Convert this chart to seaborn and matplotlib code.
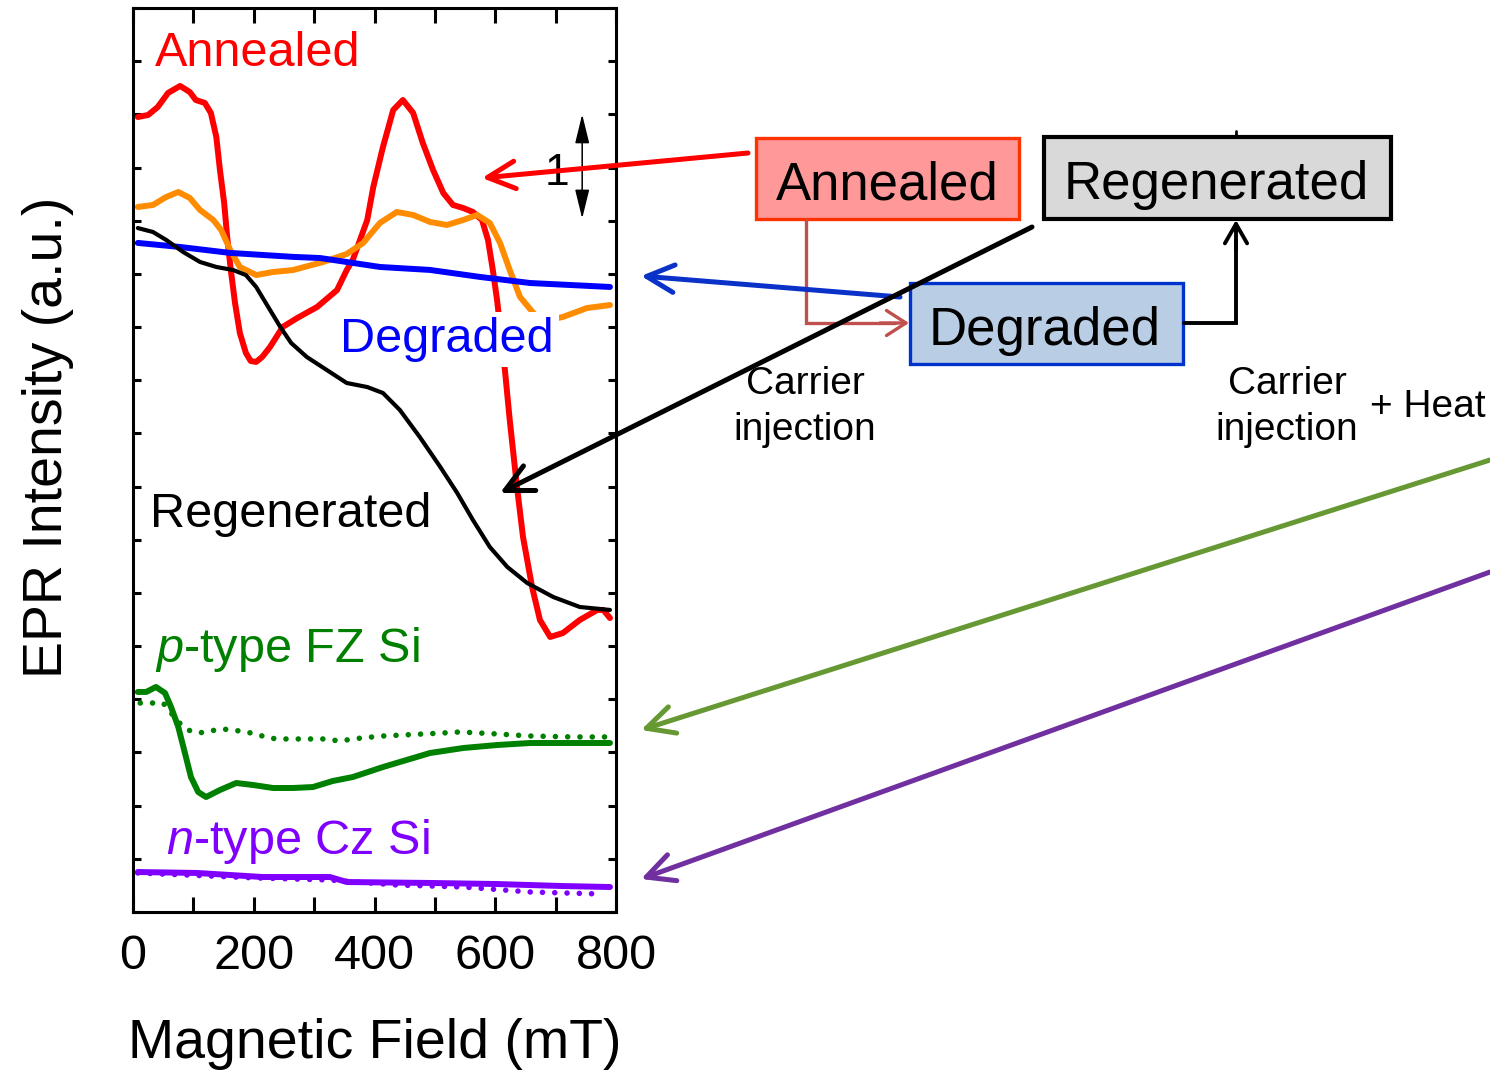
import numpy as np
import matplotlib
matplotlib.use("Agg")
import matplotlib.pyplot as plt
import seaborn as sns
from matplotlib.patches import Rectangle

# ---- EPR spectra (field in mT, intensity in a.u., offset vertically) ----
field_annealed = [8, 25, 41, 58, 78, 94, 104, 119, 129, 138, 144, 151, 156, 162, 169, 177,
                  187, 195, 204, 214, 227, 248, 272, 305, 338, 354, 364, 376, 388, 398, 414,
                  431, 447, 464, 480, 497, 514, 530, 547, 563, 578, 588, 596, 603, 616, 624,
                  636, 646, 661, 674, 691, 712, 740, 769, 779, 790]
epr_annealed = [7.475, 7.494, 7.569, 7.701, 7.767, 7.710, 7.635, 7.607, 7.513, 7.287, 6.977,
                6.666, 6.347, 6.036, 5.726, 5.444, 5.256, 5.181, 5.172, 5.219, 5.313, 5.501,
                5.585, 5.689, 5.848, 6.036, 6.131, 6.319, 6.507, 6.817, 7.193, 7.541, 7.635,
                7.513, 7.231, 6.977, 6.760, 6.648, 6.619, 6.582, 6.507, 6.319, 6.036, 5.755,
                5.096, 4.626, 3.996, 3.526, 3.056, 2.746, 2.586, 2.623, 2.746, 2.840, 2.840,
                2.764]

field_annealed_b = [8, 33, 55, 75, 94, 111, 133, 146, 161, 177, 204, 232, 265, 315, 354, 381,
                    409, 437, 464, 492, 520, 547, 570, 591, 608, 624, 641, 666, 687, 712, 752,
                    790]
epr_annealed_b = [6.629, 6.648, 6.723, 6.770, 6.714, 6.601, 6.507, 6.413, 6.225, 6.065, 5.989,
                  6.018, 6.036, 6.112, 6.187, 6.290, 6.479, 6.582, 6.554, 6.488, 6.460, 6.507,
                  6.554, 6.479, 6.290, 6.036, 5.783, 5.613, 5.566, 5.595, 5.679, 5.707]

field_degraded = [8, 78, 161, 265, 310, 409, 492, 575, 658, 790]
epr_degraded = [6.291, 6.253, 6.197, 6.160, 6.149, 6.065, 6.037, 5.971, 5.914, 5.877]

field_regen = [8, 33, 55, 83, 111, 138, 166, 187, 204, 220, 244, 262, 288, 321, 354, 388,
               414, 442, 475, 509, 537, 563, 591, 620, 653, 696, 740, 790]
epr_regen = [6.431, 6.394, 6.319, 6.206, 6.112, 6.065, 6.036, 5.989, 5.877, 5.726, 5.501,
             5.350, 5.218, 5.096, 4.974, 4.936, 4.880, 4.720, 4.466, 4.184, 3.940, 3.686,
             3.432, 3.244, 3.093, 2.962, 2.868, 2.840]

field_pfz = [8, 22, 38, 53, 63, 75, 86, 96, 108, 121, 144, 171, 199, 232, 265, 298, 331, 364,
             414, 492, 547, 603, 658, 712, 790]
epr_pfz = [2.069, 2.069, 2.116, 2.059, 1.928, 1.740, 1.495, 1.269, 1.128, 1.081, 1.147, 1.213,
           1.194, 1.166, 1.166, 1.175, 1.232, 1.269, 1.363, 1.495, 1.542, 1.570, 1.589, 1.589,
           1.589]

field_pfz_ref = [12, 50, 75, 91, 109, 128, 147, 166, 186, 204, 224, 242, 282, 320, 341, 378,
                 414, 513, 542, 603, 658, 729, 785]
epr_pfz_ref = [1.965, 1.965, 1.787, 1.711, 1.683, 1.702, 1.721, 1.711, 1.693, 1.674, 1.636,
               1.627, 1.627, 1.627, 1.608, 1.636, 1.655, 1.683, 1.693, 1.674, 1.655, 1.646,
               1.646]

field_ncz = [8, 106, 215, 326, 354, 492, 603, 712, 790]
epr_ncz = [0.376, 0.367, 0.329, 0.329, 0.282, 0.273, 0.263, 0.244, 0.235]

field_ncz_ref = [8, 205, 326, 437, 547, 658, 778]
epr_ncz_ref = [0.367, 0.320, 0.301, 0.254, 0.235, 0.188, 0.169]

x_ticks = [0, 200, 400, 600, 800]

# ---- style ----
sns.set_style("ticks")
plt.rcParams["font.family"] = ["Liberation Sans", "DejaVu Sans"]
plt.rcParams["mathtext.fontset"] = "custom"
plt.rcParams["mathtext.rm"] = "Liberation Sans"
plt.rcParams["mathtext.it"] = "Liberation Sans:italic"
for key in ("text.color", "axes.labelcolor", "xtick.color", "ytick.color",
            "axes.edgecolor"):
    plt.rcParams[key] = "black"

W, H = 1490, 1071
fig = plt.figure(figsize=(W / 100, H / 100), dpi=100)
ax = fig.add_axes([133 / W, 1 - 912 / H, 483 / W, 904 / H])

RED, ORANGE, BLUE = "#FF0000", "#FF8C00", "#0000FF"
GREEN, PURPLE = "#008000", "#8000FF"


def trace(x, y, color, lw, z, dotted=False):
    sns.lineplot(x=x, y=y, ax=ax, color=color, linewidth=lw, zorder=z)
    line = ax.lines[-1]
    line.set_solid_capstyle("round")
    line.set_solid_joinstyle("round")
    if dotted:
        line.set_linestyle((0, (0.01, 2.2)))
        line.set_dash_capstyle("round")
    return line


trace(field_ncz_ref, epr_ncz_ref, PURPLE, 4.0, 2, dotted=True)
trace(field_ncz, epr_ncz, PURPLE, 4.3, 2.1)
trace(field_pfz_ref, epr_pfz_ref, GREEN, 4.0, 2, dotted=True)
trace(field_pfz, epr_pfz, GREEN, 4.3, 2.1)
trace(field_annealed, epr_annealed, RED, 4.3, 2.2)
trace(field_annealed_b, epr_annealed_b, ORANGE, 4.3, 2.3)
trace(field_degraded, epr_degraded, BLUE, 4.3, 2.4)
trace(field_regen, epr_regen, "black", 3.0, 4)

ax.set_xlim(0, 800)
ax.set_ylim(0, 8.5)
ax.set_xticks(x_ticks)
ax.set_xticklabels([str(t) for t in x_ticks])
ax.set_xticks([100, 300, 500, 700], minor=True)
ax.set_yticks(np.arange(0, 8.51, 0.5))
ax.set_yticklabels([])
ax.set_yticks([], minor=True)
ax.set_xlabel("")
ax.set_ylabel("")
ax.tick_params(axis="x", which="both", direction="in", length=10.8, width=2.2,
               top=True, bottom=True, labelsize=35, pad=16, colors="black")
ax.tick_params(axis="y", which="both", direction="in", length=5.8, width=2.2,
               left=True, right=True, labelleft=False, colors="black")
for s in ax.spines.values():
    s.set_linewidth(2.2)
    s.set_color("black")
    s.set_visible(True)

# curve labels
ax.text(36, 7.955, "Annealed", color=RED, fontsize=35, va="baseline", zorder=5)
ax.text(343, 5.266, "Degraded", color=BLUE, fontsize=35, va="baseline", zorder=3,
        bbox=dict(boxstyle="square,pad=0.1", fc="white", ec="none"))
ax.text(28, 3.62, "Regenerated", color="black", fontsize=35, va="baseline", zorder=5)
ax.text(36, 2.351, r"$p$-type FZ Si", color=GREEN, fontsize=35, va="baseline", zorder=5)
ax.text(55, 0.545, r"$n$-type Cz Si", color=PURPLE, fontsize=35, va="baseline", zorder=5)

# scale bar: 1 a.u.
ax.annotate("", xy=(744, 7.5), xytext=(744, 6.52),
            arrowprops=dict(arrowstyle="<|-|>,head_length=0.9,head_width=0.22",
                            color="black", lw=1.1, mutation_scale=20, shrinkA=0, shrinkB=0),
            zorder=5)
ax.text(702, 6.836, "1", fontsize=32, ha="center", va="baseline", zorder=5)

# axis titles
fig.text(375 / W, 1 - 1058 / H, "Magnetic Field (mT)", fontsize=40, ha="center",
         va="baseline", color="black")
fig.text(62 / W, 1 - 437 / H, "EPR Intensity (a.u.)", fontsize=40, ha="center",
         va="baseline", rotation=90, rotation_mode="anchor", color="black")

# ---- state diagram and pointers (figure pixel coordinates) ----
ov = fig.add_axes([0, 0, 1, 1])
ov.set_xlim(0, W)
ov.set_ylim(H, 0)
ov.axis("off")
ov.set_zorder(10)
ov.patch.set_alpha(0)

ov.add_patch(Rectangle((756, 138), 263, 81, fc="#FF9999", ec="#FF3300", lw=2.4))
ov.add_patch(Rectangle((1044, 137), 347, 82, fc="#D9D9D9", ec="black", lw=3.0))
ov.add_patch(Rectangle((910, 283), 273, 81, fc="#B9CDE5", ec="#0033CC", lw=2.4))
ov.text(887, 199, "Annealed", fontsize=38, ha="center", va="baseline")
ov.text(1216, 199, "Regenerated", fontsize=38, ha="center", va="baseline")
ov.text(1045, 345, "Degraded", fontsize=38, ha="center", va="baseline")

ov.text(805, 394, "Carrier", fontsize=28, ha="center", va="baseline")
ov.text(805, 440, "injection", fontsize=28, ha="center", va="baseline")
ov.text(1287, 394, "Carrier", fontsize=28, ha="center", va="baseline")
ov.text(1287, 440, "injection", fontsize=28, ha="center", va="baseline")
ov.text(1370, 417, "+ Heat", fontsize=28, ha="left", va="baseline")

# transitions between states
ov.plot([806, 806, 895], [220, 323, 323], color="#C0504D", lw=2.4, solid_joinstyle="miter")
ov.annotate("", xy=(909, 323), xytext=(880, 323),
            arrowprops=dict(arrowstyle="->,head_length=0.7,head_width=0.45",
                            color="#C0504D", lw=2.4, mutation_scale=20,
                            shrinkA=0, shrinkB=0))
ov.plot([1184, 1236, 1236], [323, 323, 240], color="black", lw=2.8, solid_joinstyle="miter")
ov.annotate("", xy=(1236, 220), xytext=(1236, 250),
            arrowprops=dict(arrowstyle="->,head_length=0.7,head_width=0.4",
                            color="black", lw=2.8, mutation_scale=20,
                            shrinkA=0, shrinkB=0))
ov.plot([1236, 1236], [131, 137], color="black", lw=2.0)


def pointer(start, end, color):
    ov.annotate("", xy=end, xytext=start,
                arrowprops=dict(arrowstyle="->,head_length=0.9,head_width=0.45",
                                color=color, lw=3.6, mutation_scale=22,
                                shrinkA=0, shrinkB=0, capstyle="round"),
                zorder=12)


pointer((748, 153), (482, 178), "#FF0000")
pointer((900, 297), (641, 276), "#0A32C8")
pointer((1032, 227), (500, 493), "black")
pointer((1490, 460), (641, 730), "#669933")
pointer((1490, 572), (641, 879), "#7030A0")

fig.savefig("out.png", dpi=100)
